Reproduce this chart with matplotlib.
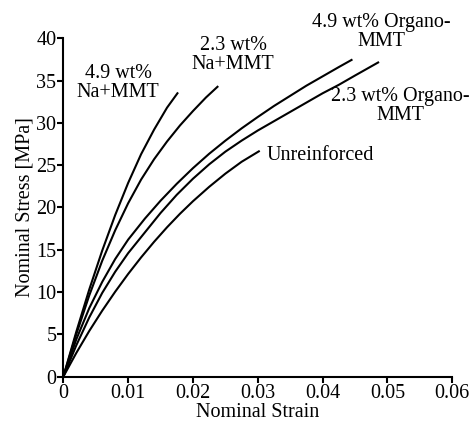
import matplotlib
matplotlib.use('Agg')
import matplotlib.pyplot as plt

plt.rcParams['font.family'] = ['Liberation Serif', 'DejaVu Serif']

# stress-strain curves (strain, stress in MPa)
na49_strain = [0, 0.002, 0.004, 0.006, 0.008, 0.010, 0.012, 0.014, 0.016, 0.0177]
na49_stress = [0, 5.3, 10.3, 14.9, 19.1, 22.9, 26.3, 29.2, 31.8, 33.6]

na23_strain = [0, 0.002, 0.004, 0.006, 0.008, 0.010, 0.012, 0.014, 0.016, 0.018, 0.020, 0.022, 0.0239]
na23_stress = [0, 5.0, 9.6, 13.7, 17.3, 20.5, 23.3, 25.7, 27.8, 29.7, 31.4, 33.0, 34.35]

org49_strain = [0, 0.002, 0.004, 0.006, 0.008, 0.010, 0.0126, 0.015, 0.0175, 0.020, 0.0225,
                0.025, 0.0275, 0.030, 0.0325, 0.035, 0.0375, 0.040, 0.0425, 0.0446]
org49_stress = [0, 4.4, 8.1, 11.2, 13.9, 16.2, 18.7, 20.8, 22.8, 24.65, 26.35,
                27.9, 29.35, 30.7, 32.0, 33.2, 34.4, 35.5, 36.6, 37.5]

org23_strain = [0, 0.002, 0.004, 0.006, 0.008, 0.010, 0.0126, 0.015, 0.0175, 0.020, 0.0225,
                0.025, 0.0275, 0.030, 0.0325, 0.035, 0.0375, 0.040, 0.0425, 0.045, 0.0487]
org23_stress = [0, 3.7, 7.0, 9.9, 12.4, 14.6, 17.07, 19.35, 21.5, 23.4, 25.1,
                26.6, 27.9, 29.1, 30.2, 31.3, 32.4, 33.5, 34.5, 35.6, 37.2]

unr_strain = [0, 0.002, 0.004, 0.006, 0.008, 0.010, 0.012, 0.014, 0.016, 0.018, 0.020,
              0.0225, 0.025, 0.0275, 0.0303]
unr_stress = [0, 2.8, 5.4, 7.8, 10.04, 12.14, 14.1, 15.94, 17.66, 19.26, 20.74,
              22.44, 24.0, 25.4, 26.7]

x_ticks = [0, 0.01, 0.02, 0.03, 0.04, 0.05, 0.06]
x_labels = ['0', '0.01', '0.02', '0.03', '0.04', '0.05', '0.06']
y_ticks = [0, 5, 10, 15, 20, 25, 30, 35, 40]

fig = plt.figure(figsize=(4.7, 4.24), dpi=100)
ax = fig.add_axes([0.1347, 0.1116, 0.8276, 0.7981])

curves = [(na49_strain, na49_stress), (na23_strain, na23_stress),
          (org49_strain, org49_stress), (org23_strain, org23_stress),
          (unr_strain, unr_stress)]
for xs, ys in curves:
    ax.plot(xs, ys, color='black', lw=1.5, solid_joinstyle='round', solid_capstyle='butt')

fs = 14.5
ax.text(0.00844, 34.7, '4.9 wt%\nNa+MMT', ha='center', va='center', fontsize=fs, linespacing=1.0)
ax.text(0.02618, 38.0, '2.3 wt%\nNa+MMT', ha='center', va='center', fontsize=fs, linespacing=1.0)
ax.text(0.04901, 40.78, '4.9 wt% Organo-\nMMT', ha='center', va='center', fontsize=fs,
        linespacing=1.0, clip_on=False)
ax.text(0.05194, 32.0, '2.3 wt% Organo-\nMMT', ha='center', va='center', fontsize=fs, linespacing=1.0)
ax.text(0.03137, 26.2, 'Unreinforced', ha='left', va='center', fontsize=fs)

ax.set_xlim(0, 0.06)
ax.set_ylim(0, 40)
ax.set_xticks(x_ticks)
ax.set_xticklabels(x_labels)
ax.set_yticks(y_ticks)
ax.tick_params(axis='both', labelsize=fs, width=1.5, length=4, pad=1, direction='out')
ax.spines['top'].set_visible(False)
ax.spines['right'].set_visible(False)
ax.spines['left'].set_linewidth(1.5)
ax.spines['bottom'].set_linewidth(1.5)
ax.set_xlabel('Nominal Strain', fontsize=fs, labelpad=0)
ax.set_ylabel('Nominal Stress [MPa]', fontsize=fs, labelpad=1)

fig.savefig('out.png', dpi=100)
